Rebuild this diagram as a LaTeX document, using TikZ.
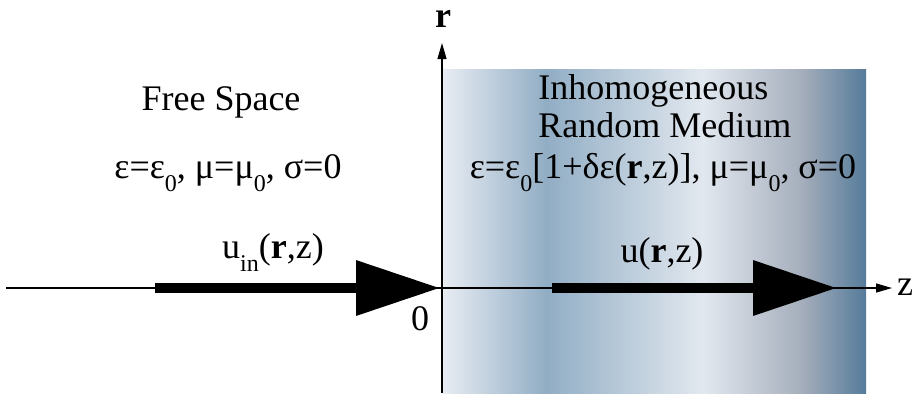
\documentclass[tikz,border=0pt]{standalone}
\usepackage{fontspec}
\setmainfont{Liberation Serif}
\usetikzlibrary{arrows.meta}
\definecolor{mediumA}{HTML}{E8ECF2}
\definecolor{mediumB}{HTML}{91ADC4}
\definecolor{mediumC}{HTML}{E2E8EF}
\definecolor{mediumD}{HTML}{A4ADBB}
\definecolor{mediumE}{HTML}{557B9A}
\newcommand{\lowsub}[1]{\raisebox{-6.5pt}{\fontsize{12}{12}\selectfont #1}}

\begin{document}
\begin{tikzpicture}[x=0.5pt,y=-0.5pt,
    txt/.style={font=\fontsize{18}{21}\selectfont, inner sep=0pt, anchor=base},
    axis/.style={line width=0.6pt, -{Triangle[length=8pt,width=4.5pt]}},
    wave/.style={line width=5pt, -{Triangle[length=42pt,width=26.5pt]}}
]
\useasboundingbox (0,0) rectangle (914,393);

% Random medium
\shade[left color=mediumA, right color=mediumB] (443,69) rectangle (546.5,393);
\shade[left color=mediumB, right color=mediumC] (546,69) rectangle (703.5,393);
\shade[left color=mediumC, right color=mediumD] (703,69) rectangle (803.5,393);
\shade[left color=mediumD, right color=mediumE] (803,69) rectangle (866,393);

% Axes
\coordinate (zstart) at (6,288);
\coordinate (zend) at (892,288);
\coordinate (rstart) at (442,393);
\coordinate (rend) at (442,43);
\draw[axis] (zstart) -- (zend);
\draw[axis] (rstart) -- (rend);
\node[txt] (rlabel) at (443,27) {\textbf{r}};
\node[txt] (zlabel) at (905,295) {z};
\node[txt] (origin) at (420,330) {0};

% Waves
\coordinate (uinstart) at (155,288);
\coordinate (uinend) at (440,288);
\coordinate (ustart) at (552,288);
\coordinate (uend) at (837,288);
\draw[wave] (uinstart) -- (uinend);
\draw[wave] (ustart) -- (uend);
\node[txt] (uin) at (273,258) {u\lowsub{in}(\textbf{r},z)};
\node[txt] (u) at (662,262) {u(\textbf{r},z)};

% Region labels
\node[txt] (free) at (221,110) {Free Space};
\node[txt] (freeparam) at (228,178) {ε=ε\lowsub{0}, μ=μ\lowsub{0}, σ=0};
\node[txt, anchor=base west] (mediumone) at (538,99) {Inhomogeneous};
\node[txt, anchor=base west] (mediumtwo) at (538,137) {Random Medium};
\node[txt] (mediumparam) at (663,178) {ε=ε\lowsub{0}[1+δε(\textbf{r},z)], μ=μ\lowsub{0}, σ=0};

\end{tikzpicture}
\end{document}
